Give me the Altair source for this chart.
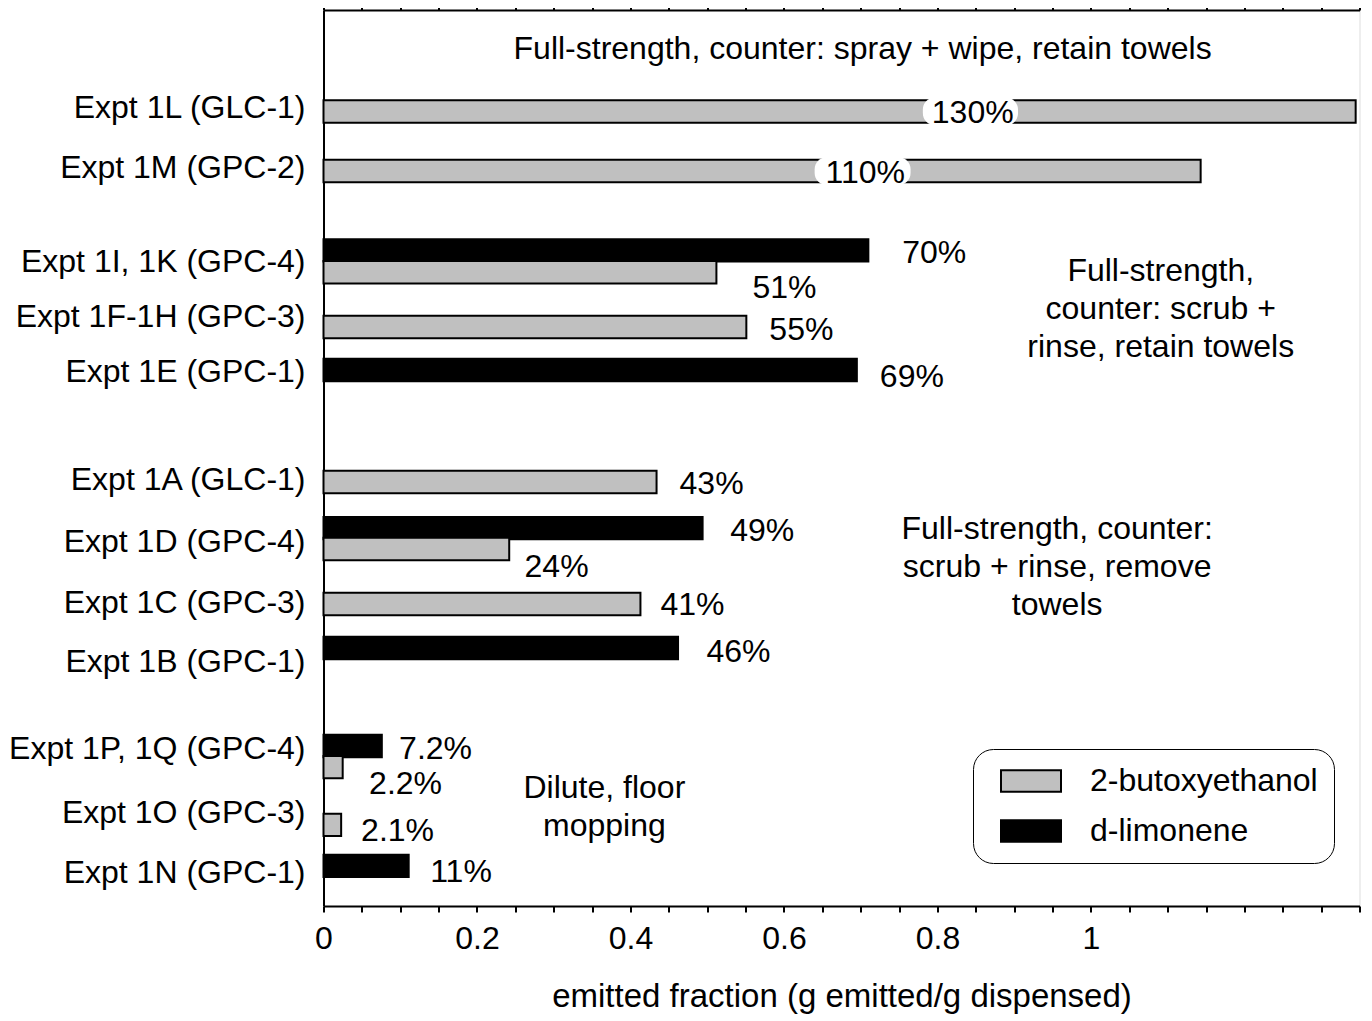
import altair as alt
import pandas as pd

FONT = "Liberation Sans"
FS = 32

# ---- categories (top to bottom) and their row positions (row units, 0 = top)
categories = ["Expt 1L (GLC-1)", "Expt 1M (GPC-2)", "Expt 1I, 1K (GPC-4)",
              "Expt 1F-1H (GPC-3)", "Expt 1E (GPC-1)", "Expt 1A (GLC-1)",
              "Expt 1D (GPC-4)", "Expt 1C (GPC-3)", "Expt 1B (GPC-1)",
              "Expt 1P, 1Q (GPC-4)", "Expt 1O (GPC-3)", "Expt 1N (GPC-1)"]
category_pos = [4.38, 7.05, 11.25, 13.7, 16.16, 20.98, 23.75, 26.47, 29.1,
                32.99, 35.85, 38.53]

# ---- bars
series_names = ["2-butoxyethanol", "d-limonene"]
bar_series = ["2-butoxyethanol", "2-butoxyethanol", "d-limonene", "2-butoxyethanol",
              "2-butoxyethanol", "d-limonene", "2-butoxyethanol", "d-limonene",
              "2-butoxyethanol", "2-butoxyethanol", "d-limonene", "d-limonene",
              "2-butoxyethanol", "2-butoxyethanol", "d-limonene"]
bar_value = [1.345, 1.143, 0.71, 0.512, 0.551, 0.695, 0.434, 0.494, 0.242,
             0.413, 0.462, 0.076, 0.025, 0.023, 0.111]
bar_pos = [4.53, 7.19, 10.73, 11.71, 14.15, 16.07, 21.07, 23.13, 24.06,
           26.52, 28.48, 32.86, 33.8, 36.38, 38.21]

# ---- value labels
label_text = ["130%", "110%", "70%", "51%", "55%", "69%", "43%", "49%", "24%",
              "41%", "46%", "7.2%", "2.2%", "2.1%", "11%"]
label_x = [0.846, 0.706, 0.754, 0.559, 0.581, 0.725, 0.464, 0.53, 0.262,
           0.439, 0.499, 0.0985, 0.0594, 0.049, 0.139]
label_y = [4.6, 7.27, 10.83, 12.4, 14.27, 16.37, 21.17, 23.27, 24.87,
           26.57, 28.67, 32.97, 34.57, 36.67, 38.47]
label_align = ["center", "center"] + ["left"] * 13

# white backgrounds behind the in-bar labels
bg_x1 = [0.781, 0.64]
bg_x2 = [0.905, 0.765]
bg_pos = [4.53, 7.19]

# ---- group annotations (y = first line)
note_text = ["Full-strength, counter: spray + wipe, retain towels",
             "Full-strength,\ncounter: scrub +\nrinse, retain towels",
             "Full-strength, counter:\nscrub + rinse, remove\ntowels",
             "Dilute, floor\nmopping"]
note_x = [0.7025, 1.091, 0.956, 0.366]
note_y = [1.74, 11.67, 23.19, 34.71]

# ---- x axis ticks
x_ticks = [round(i * 0.05, 2) for i in range(28)]
x_major = [0, 0.2, 0.4, 0.6, 0.8, 1]

bars = pd.DataFrame({"series": bar_series, "value": bar_value, "pos": bar_pos})
labels = pd.DataFrame({"text": label_text, "x": label_x, "y": label_y, "align": label_align})
bgs = pd.DataFrame({"x1": bg_x1, "x2": bg_x2, "pos": bg_pos})
notes = pd.DataFrame({"text": note_text, "x": note_x, "y": note_y})
cats = pd.DataFrame({"name": categories, "pos": category_pos})

xscale = alt.Scale(domain=[0, 1.35], nice=False, zero=True)
yscale = alt.Scale(domain=[0, 40], reverse=True, nice=False, zero=False)

major_list = "[" + ",".join(str(v) for v in x_major) + "]"

bottom_axis = alt.Axis(
    values=x_ticks, grid=False, tickSize=6, tickWidth=2, tickColor="black",
    domainColor="black", domainWidth=2, labelFont=FONT, labelFontSize=FS,
    labelColor="black", labelPadding=11, labelFlush=False, labelOverlap=False,
    labelExpr=f"indexof({major_list}, datum.value) >= 0 ? format(datum.value, '~g') : ''",
    title="emitted fraction (g emitted/g dispensed)", titleFont=FONT,
    titleFontSize=33, titleFontWeight="normal", titleColor="black",
    titleY=100, titleBaseline="alphabetic",
)
top_axis = alt.Axis(
    orient="top", values=x_ticks, grid=False, labels=False, tickSize=6,
    tickWidth=2, tickColor="black", domainColor="black", domainWidth=2, title="",
)
left_axis = alt.Axis(
    grid=False, ticks=False, labels=False, domain=True, domainColor="black",
    domainWidth=2, title="",
)

bar_layer = alt.Chart(bars).transform_calculate(
    y0="datum.pos - 0.5", y1="datum.pos + 0.5"
).mark_bar(stroke="black", strokeWidth=2).encode(
    x=alt.X("value:Q", scale=xscale, axis=bottom_axis),
    x2=alt.datum(0),
    y=alt.Y("y0:Q", scale=yscale, axis=left_axis),
    y2="y1:Q",
    fill=alt.Fill(
        "series:N",
        scale=alt.Scale(domain=series_names, range=["#c0c0c0", "#000000"]),
        legend=alt.Legend(
            title=None, orient="none", legendX=649.5, legendY=739,
            direction="vertical", padding=16, rowPadding=18,
            symbolType="M-2.5,-0.9L2.5,-0.9L2.5,0.9L-2.5,0.9Z", symbolSize=576,
            symbolStrokeColor="black", symbolStrokeWidth=2, symbolOpacity=1,
            symbolOffset=26, labelOffset=43, labelFont=FONT, labelFontSize=FS,
            labelColor="black", labelLimit=400, strokeColor="black",
            cornerRadius=20, fillColor="white",
        ),
    ),
)

bg_layer = alt.Chart(bgs).transform_calculate(
    y0="datum.pos - 0.62", y1="datum.pos + 0.62"
).mark_bar(fill="white", cornerRadius=12).encode(
    x=alt.X("x1:Q", scale=xscale, axis=None),
    x2="x2:Q",
    y=alt.Y("y0:Q", scale=yscale, axis=None),
    y2="y1:Q",
)

label_center = alt.Chart(labels).transform_filter(
    "datum.align == 'center'"
).mark_text(align="center", baseline="middle", font=FONT, fontSize=FS, color="black").encode(
    x=alt.X("x:Q", scale=xscale, axis=top_axis),
    y=alt.Y("y:Q", scale=yscale, axis=None),
    text="text:N",
)
label_left = alt.Chart(labels).transform_filter(
    "datum.align == 'left'"
).mark_text(align="left", baseline="middle", font=FONT, fontSize=FS, color="black").encode(
    x=alt.X("x:Q", scale=xscale, axis=None),
    y=alt.Y("y:Q", scale=yscale, axis=None),
    text="text:N",
)

note_layer = alt.Chart(notes).mark_text(
    align="center", baseline="middle", font=FONT, fontSize=FS, color="black",
    lineBreak="\n", lineHeight=38,
).encode(
    x=alt.X("x:Q", scale=xscale, axis=None),
    y=alt.Y("y:Q", scale=yscale, axis=None),
    text="text:N",
)

cat_layer = alt.Chart(cats).mark_text(
    align="right", baseline="middle", font=FONT, fontSize=FS, color="black",
).encode(
    x=alt.value(-18),
    y=alt.Y("pos:Q", scale=yscale, axis=None),
    text="name:N",
)

chart = alt.layer(
    bar_layer, bg_layer, label_center, label_left, note_layer, cat_layer
).resolve_axis(x="independent", y="independent").properties(
    width=1036, height=896,
    autosize=alt.AutoSizeParams(type="none"),
    padding={"left": 315.5, "top": 2, "right": 4, "bottom": 108},
).configure_view(strokeWidth=0).configure_legend(strokeWidth=2).configure(background="white")

chart.save("out.html", embed_options={"renderer": "svg", "actions": False})
